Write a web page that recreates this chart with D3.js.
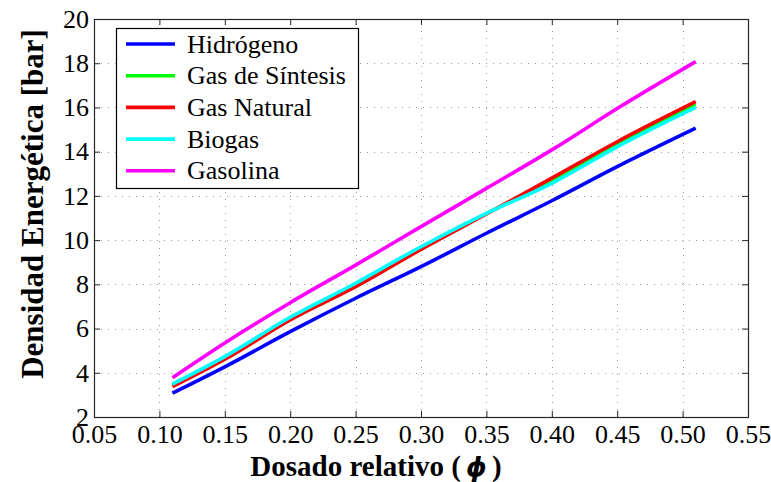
<!DOCTYPE html>
<html>
<head>
<meta charset="utf-8">
<script src="https://cdn.jsdelivr.net/npm/d3@7"></script>
<style>
  html, body { margin: 0; padding: 0; background: #fff; }
  svg { display: block; }
  svg text { font-family: 'Liberation Serif', 'Times New Roman', serif; }
</style>
</head>
<body>
<svg id="chart" width="771" height="482"></svg>
<script>
// ---- data ----
const phi        = [0.11, 0.15, 0.20, 0.25, 0.30, 0.35, 0.40, 0.45, 0.51];
const hidrogeno  = [3.08, 4.27, 5.86, 7.37, 8.80, 10.31, 11.78, 13.32, 15.06];
const gasSintesis= [3.44, 4.68, 6.46, 7.98, 9.65, 11.20, 12.68, 14.33, 16.14];
const gasNatural = [3.37, 4.61, 6.39, 7.89, 9.58, 11.18, 12.80, 14.45, 16.26];
const biogas     = [3.49, 4.73, 6.51, 8.05, 9.70, 11.21, 12.57, 14.22, 16.00];
const gasolina   = [3.78, 5.35, 7.17, 8.87, 10.61, 12.34, 14.08, 15.95, 18.07];
const seriesNames  = ["Hidrógeno", "Gas de Síntesis", "Gas Natural", "Biogas", "Gasolina"];
const seriesColors = ["#0000ff", "#00ff00", "#ff0000", "#00ffff", "#ff00ff"];
const seriesValues = [hidrogeno, gasSintesis, gasNatural, biogas, gasolina];
const xTicks = [0.05,0.10,0.15,0.20,0.25,0.30,0.35,0.40,0.45,0.50,0.55];
const yTicks = [2,4,6,8,10,12,14,16,18,20];

// ---- layout ----
const L = 94, R = 748, T = 19, B = 417;
const svg = d3.select("#chart");
const x = d3.scaleLinear().domain([0.05, 0.55]).range([L, R]);
const y = d3.scaleLinear().domain([2, 20]).range([B, T]);
const serif = "'Liberation Serif', 'Times New Roman', serif";

svg.append("rect").attr("width", 771).attr("height", 482).attr("fill", "#fff");

// grid
const grid = svg.append("g").attr("stroke", "#9a9a9a").attr("stroke-width", 1)
  .attr("stroke-dasharray", "1,6");
xTicks.slice(1, -1).forEach(t => {
  grid.append("line").attr("x1", Math.round(x(t)) + 0.5).attr("x2", Math.round(x(t)) + 0.5)
    .attr("y1", B).attr("y2", T);
});
yTicks.slice(1, -1).forEach(t => {
  grid.append("line").attr("y1", Math.round(y(t)) + 0.5).attr("y2", Math.round(y(t)) + 0.5)
    .attr("x1", L).attr("x2", R);
});

// lines
const line = d3.line().x((d, i) => x(phi[i])).y(d => y(d)).curve(d3.curveMonotoneX);
seriesValues.forEach((vals, k) => {
  svg.append("path").datum(vals).attr("d", line)
    .attr("fill", "none").attr("stroke", seriesColors[k])
    .attr("stroke-width", 3.6).attr("stroke-linejoin", "round");
});

// axes
function styleAxis(g) {
  g.attr("font-family", serif).attr("font-size", 26);
  g.select(".domain").remove();
  g.selectAll(".tick line").attr("stroke", "#262626").attr("stroke-width", 1);
  g.selectAll(".tick text").attr("fill", "#000")
    .attr("font-family", serif).style("font-family", serif).style("font-size", "26px");
}
svg.append("g").attr("transform", `translate(0,${B})`)
  .call(d3.axisBottom(x).tickValues(xTicks).tickFormat(d3.format(".2f")).tickSizeInner(-6).tickSizeOuter(0).tickPadding(8))
  .call(styleAxis);
svg.append("g").attr("transform", `translate(0,${T})`)
  .call(d3.axisTop(x).tickValues(xTicks).tickFormat("").tickSizeInner(-6).tickSizeOuter(0))
  .call(styleAxis);
svg.append("g").attr("transform", `translate(${L},0)`)
  .call(d3.axisLeft(y).tickValues(yTicks).tickFormat(d3.format("d")).tickSizeInner(-6).tickSizeOuter(0).tickPadding(5))
  .call(styleAxis);
svg.append("g").attr("transform", `translate(${R},0)`)
  .call(d3.axisRight(y).tickValues(yTicks).tickFormat("").tickSizeInner(-6).tickSizeOuter(0))
  .call(styleAxis);

// frame
svg.append("rect").attr("x", L + 0.5).attr("y", T + 0.5).attr("width", R - L).attr("height", B - T)
  .attr("fill", "none").attr("stroke", "#262626").attr("stroke-width", 1.2);

// legend
const lg = svg.append("g");
lg.append("rect").attr("x", 116.5).attr("y", 28.5).attr("width", 242).attr("height", 160)
  .attr("fill", "#fff").attr("stroke", "#000").attr("stroke-width", 1.2);
seriesNames.forEach((name, k) => {
  const yy = 44 + k * 31.7;
  lg.append("line").attr("x1", 126).attr("x2", 175).attr("y1", yy).attr("y2", yy)
    .attr("stroke", seriesColors[k]).attr("stroke-width", 3.6);
  lg.append("text").attr("x", 187).attr("y", yy).attr("dy", "0.33em")
    .attr("font-family", serif).style("font-family", serif)
    .style("font-size", "26px").attr("fill", "#000").text(name);
});

// axis titles
const xl = svg.append("text").attr("x", 376).attr("y", 476).attr("text-anchor", "middle")
  .style("font-family", serif).style("font-size", "29px").style("font-weight", "bold").attr("fill", "#000");
xl.append("tspan").text("Dosado relativo (");
xl.append("tspan").style("font-family", "'DejaVu Sans', sans-serif").style("font-style", "italic")
  .style("font-size", "26px").text("\u2009ϕ\u2009");
xl.append("tspan").text(")");

svg.append("text").attr("transform", "translate(43,204) rotate(-90)").attr("text-anchor", "middle")
  .style("font-family", serif).style("font-size", "31px").style("font-weight", "bold").attr("fill", "#000")
  .text("Densidad Energética [bar]");
</script>
</body>
</html>
